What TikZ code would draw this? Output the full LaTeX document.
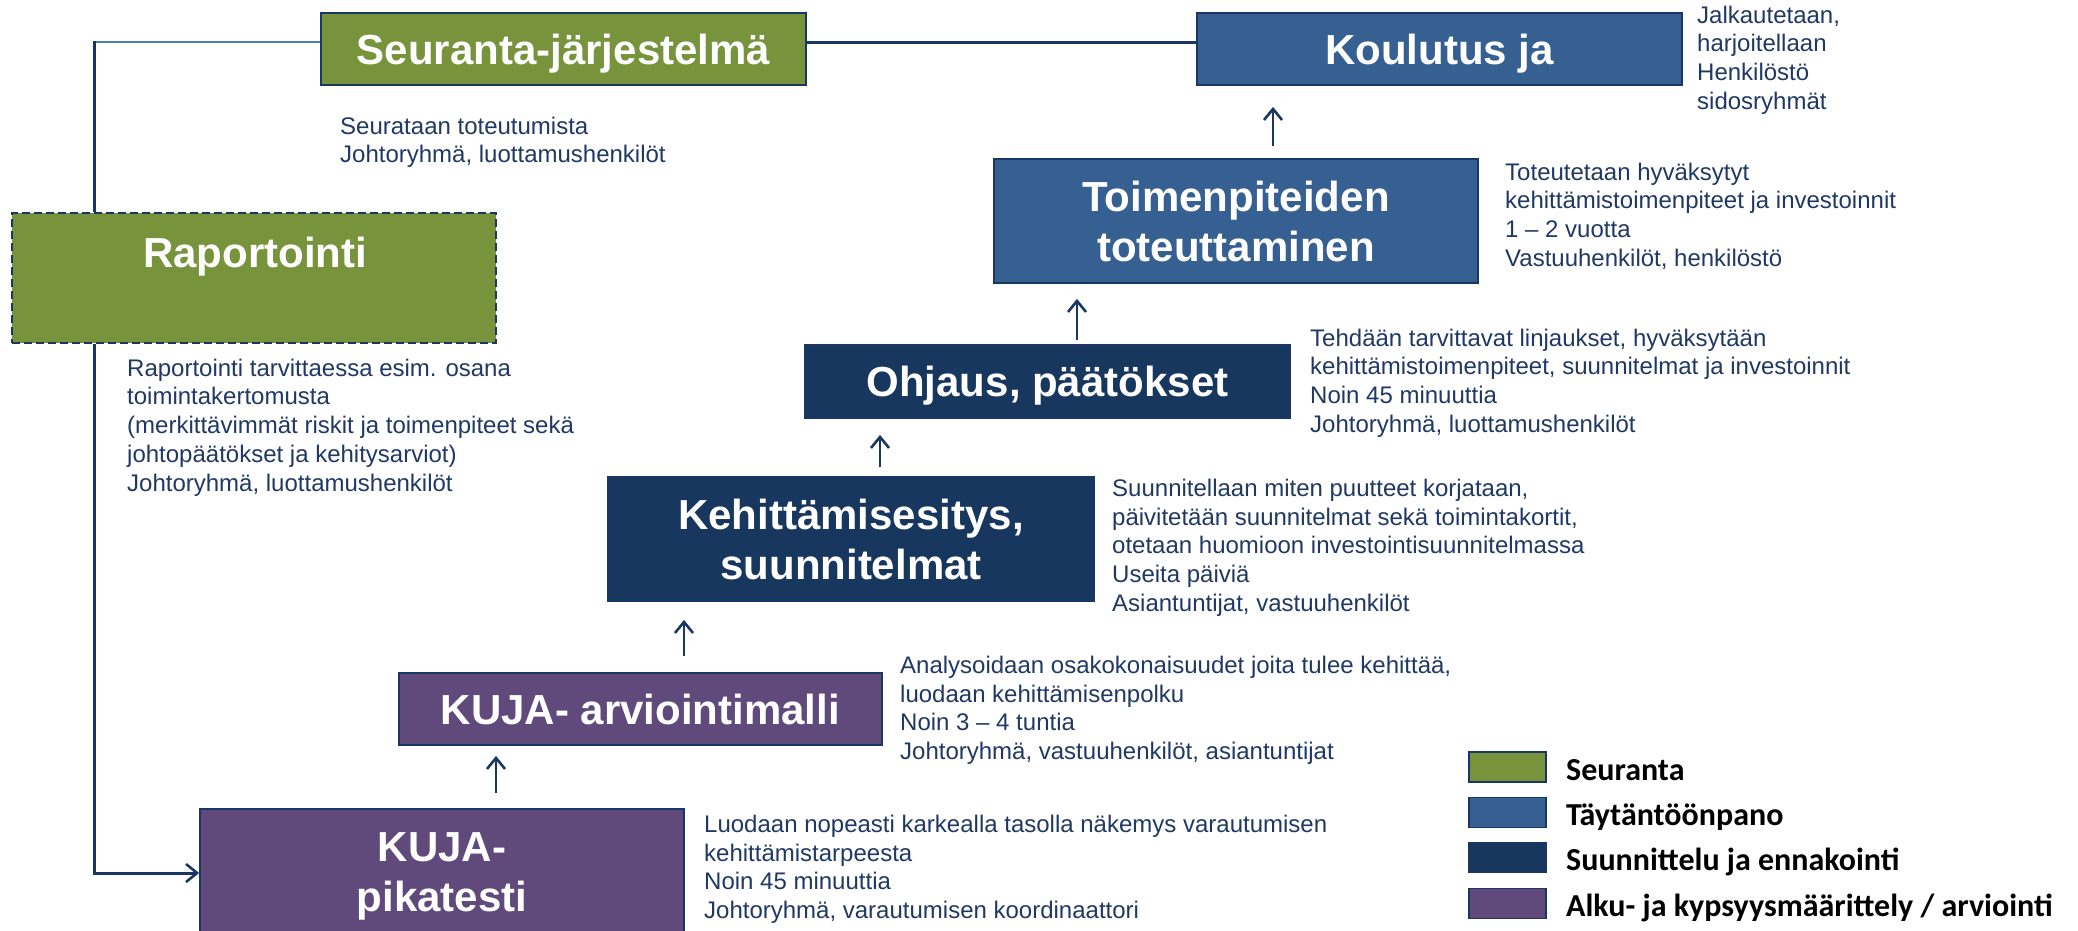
\documentclass[tikz,border=0pt]{standalone}
\usepackage{fontspec}
\setmainfont{Liberation Sans}
\newfontfamily\legfont{Carlito}
\usetikzlibrary{arrows.meta}
\definecolor{cgreen}{HTML}{77933C}
\definecolor{cblue}{HTML}{376092}
\definecolor{cnavy}{HTML}{17375E}
\definecolor{cpurple}{HTML}{604A7B}
\definecolor{cline}{HTML}{1A3763}
\definecolor{ctext}{HTML}{1F3864}
\definecolor{clight}{HTML}{4A7EBB}
\begin{document}
\begin{tikzpicture}[x=1pt,y=-1pt,
  box/.style={draw=cline, line width=1.8pt, minimum width=484pt, inner sep=0pt, text=white,
    font=\fontsize{42}{50}\selectfont\bfseries},
  oneline/.style={text height=30pt, text depth=0pt},
  twoline/.style={align=center},
  title/.style={inner sep=0pt, text=white, font=\fontsize{42}{50}\selectfont\bfseries, text height=30pt, text depth=0pt},
  desc/.style={anchor=north west, inner sep=0pt, text=ctext,
    font=\fontsize{24}{28.7}\selectfont, align=left},
  conn/.style={draw=cline, line width=3pt},
  arr/.style={draw=cline, line width=2.6pt, -{Straight Barb[length=11pt,width=18pt,line width=2.6pt]}},
  legbox/.style={draw=cline, line width=1.8pt, minimum width=77pt, minimum height=30pt, inner sep=0pt},
  legtxt/.style={anchor=base west, inner sep=0pt, font=\legfont\bfseries\fontsize{32}{38}\selectfont, text=black}
]
\useasboundingbox (0,0) rectangle (2078,930);

% boxes
\node[box, oneline, fill=cgreen, minimum width=485pt, minimum height=72pt] (seur) at (563.5,49) {Seuranta-järjestelmä};
\node[box, oneline, fill=cblue, minimum width=485pt, minimum height=72pt] (koul) at (1439.5,49) {Koulutus ja};
\node[box, fill=cgreen, dash pattern=on 8pt off 4pt, minimum width=484pt, minimum height=130pt] (rap) at (254,278) {};
\node[title] (raptitle) at (255,252) {Raportointi};
\node[box, twoline, fill=cblue, minimum height=124pt] (toim) at (1236,221) {Toimenpiteiden\\toteuttaminen};
\node[box, oneline, fill=cnavy, minimum width=485pt, minimum height=73pt] (ohj) at (1047.5,381.5) {Ohjaus, päätökset};
\node[box, twoline, fill=cnavy, minimum width=486pt, minimum height=124pt] (keh) at (851,539) {Kehittämisesitys,\\suunnitelmat};
\node[box, oneline, fill=cpurple, minimum width=483pt, minimum height=72pt] (arv) at (640.5,709) {KUJA- arviointimalli};
\node[box, twoline, fill=cpurple, minimum height=135pt] (pik) at (442,876.5) {KUJA-\\pikatesti};

% descriptions
\node[desc] (seurtxt) at (340,114) {\strut Seurataan toteutumista\\Johtoryhmä, luottamushenkilöt};
\node[desc] (koultxt) at (1697,3) {\strut Jalkautetaan,\\harjoitellaan\\Henkilöstö\\sidosryhmät};
\node[desc] (toimtxt) at (1505,160) {\strut Toteutetaan hyväksytyt\\kehittämistoimenpiteet ja investoinnit\\1 – 2 vuotta\\Vastuuhenkilöt, henkilöstö};
\node[desc] (ohjtxt) at (1310,326) {\strut Tehdään tarvittavat linjaukset, hyväksytään\\kehittämistoimenpiteet, suunnitelmat ja investoinnit\\Noin 45 minuuttia\\Johtoryhmä, luottamushenkilöt};
\node[desc] (kehtxt) at (1112,476) {\strut Suunnitellaan miten puutteet korjataan,\\päivitetään suunnitelmat sekä toimintakortit,\\otetaan huomioon investointisuunnitelmassa\\Useita päiviä\\Asiantuntijat, vastuuhenkilöt};
\node[desc] (arvtxt) at (900,653) {\strut Analysoidaan osakokonaisuudet joita tulee kehittää,\\luodaan kehittämisenpolku\\Noin 3 – 4 tuntia\\Johtoryhmä, vastuuhenkilöt, asiantuntijat};
\node[desc] (piktxt) at (704,812) {\strut Luodaan nopeasti karkealla tasolla näkemys varautumisen\\kehittämistarpeesta\\Noin 45 minuuttia\\Johtoryhmä, varautumisen koordinaattori};
\node[desc] (raptxt) at (127,356) {\strut Raportointi tarvittaessa esim. osana\\toimintakertomusta\\(merkittävimmät riskit ja toimenpiteet sekä\\johtopäätökset ja kehitysarviot)\\Johtoryhmä, luottamushenkilöt};

% connectors
\coordinate (ly) at (0,42);
\coordinate (lx) at (94,0);
\coordinate (ly2) at (0,873);
\draw[conn] (seur.east |- ly) -- (koul.west |- ly);
\draw[draw=clight, line width=2.4pt] (seur.west |- ly) -- (lx |- ly);
\draw[conn] ([yshift=1.2pt]lx |- ly) -- (lx |- rap.north);
\draw[arr, line width=3pt] (lx |- rap.south) -- (lx |- ly2) -- (pik.west |- ly2);

\coordinate (a1) at (496,0);
\coordinate (a2) at (684,0);
\coordinate (a3) at (880,0);
\coordinate (a4) at (1077,0);
\coordinate (a5) at (1273,0);
\draw[arr, shorten <=15pt, shorten >=10pt] (pik.north -| a1) -- (arv.south -| a1);
\draw[arr, shorten <=16pt, shorten >=18pt] (arv.north -| a2) -- (keh.south -| a2);
\draw[arr, shorten <=9pt, shorten >=16pt] (keh.north -| a3) -- (ohj.south -| a3);
\draw[arr, shorten <=4pt, shorten >=15pt] (ohj.north -| a4) -- (toim.south -| a4);
\draw[arr, shorten <=12pt, shorten >=21pt] (toim.north -| a5) -- (koul.south -| a5);

% legend
\node[legbox, fill=cgreen] (lg1) at (1507.5,767) {};
\node[legbox, fill=cblue] (lg2) at (1507.5,812.5) {};
\node[legbox, fill=cnavy] (lg3) at (1507.5,857.5) {};
\node[legbox, fill=cpurple] (lg4) at (1507.5,903.5) {};
\node[legtxt] (lt1) at (1566,780) {Seuranta};
\node[legtxt] (lt2) at (1566,825.5) {Täytäntöönpano};
\node[legtxt] (lt3) at (1566,870.5) {Suunnittelu ja ennakointi};
\node[legtxt] (lt4) at (1566,916.5) {Alku- ja kypsyysmäärittely / arviointi};
\end{tikzpicture}
\end{document}
